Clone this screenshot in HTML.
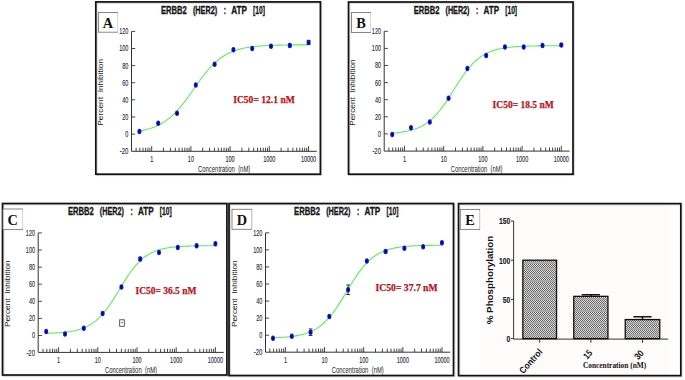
<!DOCTYPE html>
<html><head><meta charset="utf-8"><style>
html,body{margin:0;padding:0;background:#fff;}
body{width:685px;height:380px;overflow:hidden;font-family:"Liberation Sans", sans-serif;}
svg{display:block;}
</style></head><body>
<svg width="685" height="380" viewBox="0 0 685 380">
<rect width="685" height="380" fill="#fff"/>
<rect x="96.8" y="2.9" width="224.6" height="172.3" fill="none" stroke="#bbb" stroke-width="1.7" opacity="0.6"/>
<rect x="95.8" y="1.9" width="224.6" height="172.3" fill="none" stroke="#111" stroke-width="1.7"/>
<rect x="98.5" y="12.5" width="19" height="19.7" fill="#fff" stroke="#7a7a7a" stroke-width="0.9"/>
<path d="M117.5 13V31.7" stroke="#d8d8d8" stroke-width="1"/>
<text x="108" y="27.7" font-family="&quot;Liberation Serif&quot;, serif" font-weight="bold" font-size="14.3" text-anchor="middle" fill="#111">A</text>
<path d="M131.5 31.38V151.3H316.8" fill="none" stroke="#333" stroke-width="1"/>
<text x="128.3" y="154.17" font-family="&quot;Liberation Sans&quot;, sans-serif" font-weight="normal" font-size="8.2" text-anchor="end" fill="#2a2240" textLength="8.6" lengthAdjust="spacingAndGlyphs" stroke="#2a2240" stroke-width="0.12">-20</text>
<text x="128.3" y="137.05" font-family="&quot;Liberation Sans&quot;, sans-serif" font-weight="normal" font-size="8.2" text-anchor="end" fill="#2a2240" textLength="3.05" lengthAdjust="spacingAndGlyphs" stroke="#2a2240" stroke-width="0.12">0</text>
<text x="128.3" y="119.93" font-family="&quot;Liberation Sans&quot;, sans-serif" font-weight="normal" font-size="8.2" text-anchor="end" fill="#2a2240" textLength="6.1" lengthAdjust="spacingAndGlyphs" stroke="#2a2240" stroke-width="0.12">20</text>
<text x="128.3" y="102.81" font-family="&quot;Liberation Sans&quot;, sans-serif" font-weight="normal" font-size="8.2" text-anchor="end" fill="#2a2240" textLength="6.1" lengthAdjust="spacingAndGlyphs" stroke="#2a2240" stroke-width="0.12">40</text>
<text x="128.3" y="85.69" font-family="&quot;Liberation Sans&quot;, sans-serif" font-weight="normal" font-size="8.2" text-anchor="end" fill="#2a2240" textLength="6.1" lengthAdjust="spacingAndGlyphs" stroke="#2a2240" stroke-width="0.12">60</text>
<text x="128.3" y="68.57" font-family="&quot;Liberation Sans&quot;, sans-serif" font-weight="normal" font-size="8.2" text-anchor="end" fill="#2a2240" textLength="6.1" lengthAdjust="spacingAndGlyphs" stroke="#2a2240" stroke-width="0.12">80</text>
<text x="128.3" y="51.45" font-family="&quot;Liberation Sans&quot;, sans-serif" font-weight="normal" font-size="8.2" text-anchor="end" fill="#2a2240" textLength="9.15" lengthAdjust="spacingAndGlyphs" stroke="#2a2240" stroke-width="0.12">100</text>
<text x="128.3" y="34.33" font-family="&quot;Liberation Sans&quot;, sans-serif" font-weight="normal" font-size="8.2" text-anchor="end" fill="#2a2240" textLength="9.15" lengthAdjust="spacingAndGlyphs" stroke="#2a2240" stroke-width="0.12">120</text>
<path d="M131.5 134.1h3.7 M131.5 116.98h3.7 M131.5 99.86h3.7 M131.5 82.74h3.7 M131.5 65.62h3.7 M131.5 48.5h3.7 M131.5 31.38h3.7 M136.1 151.3v-3.6 M139.9 151.3v-3.6 M143 151.3v-3.6 M145.63 151.3v-3.6 M147.9 151.3v-3.6 M149.91 151.3v-3.6 M151.7 151.3v-5.2 M163.5 151.3v-3.6 M170.4 151.3v-3.6 M175.3 151.3v-3.6 M179.1 151.3v-3.6 M182.2 151.3v-3.6 M184.83 151.3v-3.6 M187.1 151.3v-3.6 M189.11 151.3v-3.6 M190.9 151.3v-5.2 M202.7 151.3v-3.6 M209.6 151.3v-3.6 M214.5 151.3v-3.6 M218.3 151.3v-3.6 M221.4 151.3v-3.6 M224.03 151.3v-3.6 M226.3 151.3v-3.6 M228.31 151.3v-3.6 M230.1 151.3v-5.2 M241.9 151.3v-3.6 M248.8 151.3v-3.6 M253.7 151.3v-3.6 M257.5 151.3v-3.6 M260.6 151.3v-3.6 M263.23 151.3v-3.6 M265.5 151.3v-3.6 M267.51 151.3v-3.6 M269.3 151.3v-5.2 M281.1 151.3v-3.6 M288 151.3v-3.6 M292.9 151.3v-3.6 M296.7 151.3v-3.6 M299.8 151.3v-3.6 M302.43 151.3v-3.6 M304.7 151.3v-3.6 M306.71 151.3v-3.6 M308.5 151.3v-5.2" fill="none" stroke="#333" stroke-width="0.9"/>
<text x="151.7" y="161.7" font-family="&quot;Liberation Sans&quot;, sans-serif" font-weight="normal" font-size="8.2" text-anchor="middle" fill="#2a2240" textLength="3.05" lengthAdjust="spacingAndGlyphs" stroke="#2a2240" stroke-width="0.12">1</text>
<text x="190.9" y="161.7" font-family="&quot;Liberation Sans&quot;, sans-serif" font-weight="normal" font-size="8.2" text-anchor="middle" fill="#2a2240" textLength="6.1" lengthAdjust="spacingAndGlyphs" stroke="#2a2240" stroke-width="0.12">10</text>
<text x="230.1" y="161.7" font-family="&quot;Liberation Sans&quot;, sans-serif" font-weight="normal" font-size="8.2" text-anchor="middle" fill="#2a2240" textLength="9.15" lengthAdjust="spacingAndGlyphs" stroke="#2a2240" stroke-width="0.12">100</text>
<text x="269.3" y="161.7" font-family="&quot;Liberation Sans&quot;, sans-serif" font-weight="normal" font-size="8.2" text-anchor="middle" fill="#2a2240" textLength="12.2" lengthAdjust="spacingAndGlyphs" stroke="#2a2240" stroke-width="0.12">1000</text>
<text x="308.5" y="161.7" font-family="&quot;Liberation Sans&quot;, sans-serif" font-weight="normal" font-size="8.2" text-anchor="middle" fill="#2a2240" textLength="15.25" lengthAdjust="spacingAndGlyphs" stroke="#2a2240" stroke-width="0.12">10000</text>
<text x="198" y="171.8" font-family="&quot;Liberation Sans&quot;, sans-serif" font-weight="normal" font-size="8.6" text-anchor="start" fill="#222" textLength="52.3" lengthAdjust="spacingAndGlyphs">Concentration&#160;&#160;(nM)</text>
<g transform="translate(103.1 125.8) rotate(-90)">
<text x="0" y="0" font-family="&quot;Liberation Sans&quot;, sans-serif" font-weight="normal" font-size="7.5" text-anchor="start" fill="#222" textLength="66.9" lengthAdjust="spacingAndGlyphs">Percent&#160;&#160;Inhibition</text>
</g>
<text x="160.9" y="13.6" font-family="&quot;Liberation Sans&quot;, sans-serif" font-weight="bold" font-size="10.2" text-anchor="start" fill="#151515" textLength="25.9" lengthAdjust="spacingAndGlyphs" stroke="#151515" stroke-width="0.3">ERBB2</text>
<text x="192.9" y="13.6" font-family="&quot;Liberation Sans&quot;, sans-serif" font-weight="bold" font-size="10.2" text-anchor="start" fill="#151515" textLength="24.2" lengthAdjust="spacingAndGlyphs" stroke="#151515" stroke-width="0.3">(HER2)</text>
<text x="223.7" y="13.6" font-family="&quot;Liberation Sans&quot;, sans-serif" font-weight="bold" font-size="10.2" text-anchor="start" fill="#151515" textLength="2.2" lengthAdjust="spacingAndGlyphs" stroke="#151515" stroke-width="0.3">:</text>
<text x="231.2" y="13.6" font-family="&quot;Liberation Sans&quot;, sans-serif" font-weight="bold" font-size="10.2" text-anchor="start" fill="#151515" textLength="15.7" lengthAdjust="spacingAndGlyphs" stroke="#151515" stroke-width="0.3">ATP</text>
<text x="253.1" y="13.6" font-family="&quot;Liberation Sans&quot;, sans-serif" font-weight="bold" font-size="10.2" text-anchor="start" fill="#151515" textLength="12" lengthAdjust="spacingAndGlyphs" stroke="#151515" stroke-width="0.3">[10]</text>
<polyline points="139.41,130.91 140.83,130.67 142.26,130.4 143.68,130.11 145.1,129.79 146.52,129.45 147.94,129.07 149.36,128.67 150.79,128.23 152.21,127.75 153.63,127.23 155.05,126.67 156.47,126.07 157.9,125.42 159.32,124.72 160.74,123.97 162.16,123.16 163.58,122.29 165,121.36 166.43,120.37 167.85,119.31 169.27,118.19 170.69,117 172.11,115.73 173.53,114.4 174.96,112.99 176.38,111.52 177.8,109.97 179.22,108.36 180.64,106.68 182.07,104.95 183.49,103.15 184.91,101.3 186.33,99.41 187.75,97.48 189.17,95.51 190.6,93.52 192.02,91.51 193.44,89.49 194.86,87.46 196.28,85.45 197.7,83.45 199.13,81.47 200.55,79.53 201.97,77.62 203.39,75.76 204.81,73.95 206.23,72.19 207.66,70.5 209.08,68.86 210.5,67.3 211.92,65.8 213.34,64.37 214.77,63.02 216.19,61.73 217.61,60.52 219.03,59.37 220.45,58.29 221.87,57.28 223.3,56.33 224.72,55.45 226.14,54.62 227.56,53.85 228.98,53.13 230.4,52.47 231.83,51.85 233.25,51.28 234.67,50.75 236.09,50.26 237.51,49.81 238.93,49.39 240.36,49.01 241.78,48.65 243.2,48.33 244.62,48.03 246.04,47.75 247.47,47.5 248.89,47.27 250.31,47.06 251.73,46.86 253.15,46.68 254.57,46.52 256,46.37 257.42,46.23 258.84,46.1 260.26,45.99 261.68,45.88 263.1,45.79 264.53,45.7 265.95,45.62 267.37,45.54 268.79,45.47 270.21,45.41 271.63,45.36 273.06,45.3 274.48,45.26 275.9,45.21 277.32,45.17 278.74,45.14 280.17,45.11 281.59,45.08 283.01,45.05 284.43,45.02 285.85,45 287.27,44.98 288.7,44.96 290.12,44.94 291.54,44.93 292.96,44.91 294.38,44.9 295.8,44.89 297.23,44.88 298.65,44.87 300.07,44.86 301.49,44.85 302.91,44.84 304.33,44.83 305.76,44.83 307.18,44.82 308.6,44.82" fill="none" stroke="#5af05a" stroke-width="1.1"/>
<path d="M289.8 44.05V46.79M287.9 44.05h3.8M287.9 46.79h3.8" stroke="#222" stroke-width="0.9" fill="none"/>
<path d="M308.6 40.37V44.48M306.7 40.37h3.8M306.7 44.48h3.8" stroke="#222" stroke-width="0.9" fill="none"/>
<ellipse cx="139.41" cy="131.4" rx="2" ry="2.75" fill="#1414f0"/>
<ellipse cx="139.41" cy="131.4" rx="0.75" ry="1.7" fill="#000050"/>
<ellipse cx="158.21" cy="123.23" rx="2" ry="2.75" fill="#1414f0"/>
<ellipse cx="158.21" cy="123.23" rx="0.75" ry="1.7" fill="#000050"/>
<ellipse cx="177.01" cy="113.21" rx="2" ry="2.75" fill="#1414f0"/>
<ellipse cx="177.01" cy="113.21" rx="0.75" ry="1.7" fill="#000050"/>
<ellipse cx="195.81" cy="84.88" rx="2" ry="2.75" fill="#1414f0"/>
<ellipse cx="195.81" cy="84.88" rx="0.75" ry="1.7" fill="#000050"/>
<ellipse cx="214.61" cy="64.34" rx="2" ry="2.75" fill="#1414f0"/>
<ellipse cx="214.61" cy="64.34" rx="0.75" ry="1.7" fill="#000050"/>
<ellipse cx="233.41" cy="49.78" rx="2" ry="2.75" fill="#1414f0"/>
<ellipse cx="233.41" cy="49.78" rx="0.75" ry="1.7" fill="#000050"/>
<ellipse cx="252.2" cy="48.5" rx="2" ry="2.75" fill="#1414f0"/>
<ellipse cx="252.2" cy="48.5" rx="0.75" ry="1.7" fill="#000050"/>
<ellipse cx="271" cy="46.27" rx="2" ry="2.75" fill="#1414f0"/>
<ellipse cx="271" cy="46.27" rx="0.75" ry="1.7" fill="#000050"/>
<ellipse cx="289.8" cy="45.42" rx="2" ry="2.75" fill="#1414f0"/>
<ellipse cx="289.8" cy="45.42" rx="0.75" ry="1.7" fill="#000050"/>
<ellipse cx="308.6" cy="42.42" rx="2" ry="2.75" fill="#1414f0"/>
<ellipse cx="308.6" cy="42.42" rx="0.75" ry="1.7" fill="#000050"/>
<text x="233.2" y="103.1" font-family="&quot;Liberation Serif&quot;, serif" font-weight="bold" font-size="10.2" text-anchor="start" fill="#bb1219" textLength="61.6" lengthAdjust="spacingAndGlyphs" stroke="#bb1219" stroke-width="0.25">IC50= 12.1 nM</text>
<rect x="349.5" y="3" width="224.5" height="172.2" fill="none" stroke="#bbb" stroke-width="1.7" opacity="0.6"/>
<rect x="348.5" y="2" width="224.5" height="172.2" fill="none" stroke="#111" stroke-width="1.7"/>
<rect x="351.5" y="12.5" width="19" height="20" fill="#fff" stroke="#7a7a7a" stroke-width="0.9"/>
<path d="M370.5 13V32" stroke="#d8d8d8" stroke-width="1"/>
<text x="361" y="28" font-family="&quot;Liberation Serif&quot;, serif" font-weight="bold" font-size="14.3" text-anchor="middle" fill="#111">B</text>
<path d="M384.2 31.3V151.1H569.6" fill="none" stroke="#333" stroke-width="1"/>
<text x="381" y="153.95" font-family="&quot;Liberation Sans&quot;, sans-serif" font-weight="normal" font-size="8.2" text-anchor="end" fill="#2a2240" textLength="8.6" lengthAdjust="spacingAndGlyphs" stroke="#2a2240" stroke-width="0.12">-20</text>
<text x="381" y="136.85" font-family="&quot;Liberation Sans&quot;, sans-serif" font-weight="normal" font-size="8.2" text-anchor="end" fill="#2a2240" textLength="3.05" lengthAdjust="spacingAndGlyphs" stroke="#2a2240" stroke-width="0.12">0</text>
<text x="381" y="119.75" font-family="&quot;Liberation Sans&quot;, sans-serif" font-weight="normal" font-size="8.2" text-anchor="end" fill="#2a2240" textLength="6.1" lengthAdjust="spacingAndGlyphs" stroke="#2a2240" stroke-width="0.12">20</text>
<text x="381" y="102.65" font-family="&quot;Liberation Sans&quot;, sans-serif" font-weight="normal" font-size="8.2" text-anchor="end" fill="#2a2240" textLength="6.1" lengthAdjust="spacingAndGlyphs" stroke="#2a2240" stroke-width="0.12">40</text>
<text x="381" y="85.55" font-family="&quot;Liberation Sans&quot;, sans-serif" font-weight="normal" font-size="8.2" text-anchor="end" fill="#2a2240" textLength="6.1" lengthAdjust="spacingAndGlyphs" stroke="#2a2240" stroke-width="0.12">60</text>
<text x="381" y="68.45" font-family="&quot;Liberation Sans&quot;, sans-serif" font-weight="normal" font-size="8.2" text-anchor="end" fill="#2a2240" textLength="6.1" lengthAdjust="spacingAndGlyphs" stroke="#2a2240" stroke-width="0.12">80</text>
<text x="381" y="51.35" font-family="&quot;Liberation Sans&quot;, sans-serif" font-weight="normal" font-size="8.2" text-anchor="end" fill="#2a2240" textLength="9.15" lengthAdjust="spacingAndGlyphs" stroke="#2a2240" stroke-width="0.12">100</text>
<text x="381" y="34.25" font-family="&quot;Liberation Sans&quot;, sans-serif" font-weight="normal" font-size="8.2" text-anchor="end" fill="#2a2240" textLength="9.15" lengthAdjust="spacingAndGlyphs" stroke="#2a2240" stroke-width="0.12">120</text>
<path d="M384.2 133.9h3.7 M384.2 116.8h3.7 M384.2 99.7h3.7 M384.2 82.6h3.7 M384.2 65.5h3.7 M384.2 48.4h3.7 M384.2 31.3h3.7 M388.9 151.1v-3.6 M392.7 151.1v-3.6 M395.8 151.1v-3.6 M398.43 151.1v-3.6 M400.7 151.1v-3.6 M402.71 151.1v-3.6 M404.5 151.1v-5.2 M416.3 151.1v-3.6 M423.2 151.1v-3.6 M428.1 151.1v-3.6 M431.9 151.1v-3.6 M435 151.1v-3.6 M437.63 151.1v-3.6 M439.9 151.1v-3.6 M441.91 151.1v-3.6 M443.7 151.1v-5.2 M455.5 151.1v-3.6 M462.4 151.1v-3.6 M467.3 151.1v-3.6 M471.1 151.1v-3.6 M474.2 151.1v-3.6 M476.83 151.1v-3.6 M479.1 151.1v-3.6 M481.11 151.1v-3.6 M482.9 151.1v-5.2 M494.7 151.1v-3.6 M501.6 151.1v-3.6 M506.5 151.1v-3.6 M510.3 151.1v-3.6 M513.4 151.1v-3.6 M516.03 151.1v-3.6 M518.3 151.1v-3.6 M520.31 151.1v-3.6 M522.1 151.1v-5.2 M533.9 151.1v-3.6 M540.8 151.1v-3.6 M545.7 151.1v-3.6 M549.5 151.1v-3.6 M552.6 151.1v-3.6 M555.23 151.1v-3.6 M557.5 151.1v-3.6 M559.51 151.1v-3.6 M561.3 151.1v-5.2" fill="none" stroke="#333" stroke-width="0.9"/>
<text x="404.5" y="161.5" font-family="&quot;Liberation Sans&quot;, sans-serif" font-weight="normal" font-size="8.2" text-anchor="middle" fill="#2a2240" textLength="3.05" lengthAdjust="spacingAndGlyphs" stroke="#2a2240" stroke-width="0.12">1</text>
<text x="443.7" y="161.5" font-family="&quot;Liberation Sans&quot;, sans-serif" font-weight="normal" font-size="8.2" text-anchor="middle" fill="#2a2240" textLength="6.1" lengthAdjust="spacingAndGlyphs" stroke="#2a2240" stroke-width="0.12">10</text>
<text x="482.9" y="161.5" font-family="&quot;Liberation Sans&quot;, sans-serif" font-weight="normal" font-size="8.2" text-anchor="middle" fill="#2a2240" textLength="9.15" lengthAdjust="spacingAndGlyphs" stroke="#2a2240" stroke-width="0.12">100</text>
<text x="522.1" y="161.5" font-family="&quot;Liberation Sans&quot;, sans-serif" font-weight="normal" font-size="8.2" text-anchor="middle" fill="#2a2240" textLength="12.2" lengthAdjust="spacingAndGlyphs" stroke="#2a2240" stroke-width="0.12">1000</text>
<text x="561.3" y="161.5" font-family="&quot;Liberation Sans&quot;, sans-serif" font-weight="normal" font-size="8.2" text-anchor="middle" fill="#2a2240" textLength="15.25" lengthAdjust="spacingAndGlyphs" stroke="#2a2240" stroke-width="0.12">10000</text>
<text x="450.7" y="171.8" font-family="&quot;Liberation Sans&quot;, sans-serif" font-weight="normal" font-size="8.6" text-anchor="start" fill="#222" textLength="51.8" lengthAdjust="spacingAndGlyphs">Concentration&#160;&#160;(nM)</text>
<g transform="translate(355.1 125.8) rotate(-90)">
<text x="0" y="0" font-family="&quot;Liberation Sans&quot;, sans-serif" font-weight="normal" font-size="7.5" text-anchor="start" fill="#222" textLength="66.5" lengthAdjust="spacingAndGlyphs">Percent&#160;&#160;Inhibition</text>
</g>
<text x="413.8" y="13.6" font-family="&quot;Liberation Sans&quot;, sans-serif" font-weight="bold" font-size="10.2" text-anchor="start" fill="#151515" textLength="25.68" lengthAdjust="spacingAndGlyphs" stroke="#151515" stroke-width="0.3">ERBB2</text>
<text x="445.52" y="13.6" font-family="&quot;Liberation Sans&quot;, sans-serif" font-weight="bold" font-size="10.2" text-anchor="start" fill="#151515" textLength="23.99" lengthAdjust="spacingAndGlyphs" stroke="#151515" stroke-width="0.3">(HER2)</text>
<text x="476.06" y="13.6" font-family="&quot;Liberation Sans&quot;, sans-serif" font-weight="bold" font-size="10.2" text-anchor="start" fill="#151515" textLength="2.18" lengthAdjust="spacingAndGlyphs" stroke="#151515" stroke-width="0.3">:</text>
<text x="483.49" y="13.6" font-family="&quot;Liberation Sans&quot;, sans-serif" font-weight="bold" font-size="10.2" text-anchor="start" fill="#151515" textLength="15.56" lengthAdjust="spacingAndGlyphs" stroke="#151515" stroke-width="0.3">ATP</text>
<text x="505.2" y="13.6" font-family="&quot;Liberation Sans&quot;, sans-serif" font-weight="bold" font-size="10.2" text-anchor="start" fill="#151515" textLength="11.9" lengthAdjust="spacingAndGlyphs" stroke="#151515" stroke-width="0.3">[10]</text>
<polyline points="392.22,133.19 393.64,133.08 395.06,132.95 396.48,132.82 397.9,132.67 399.32,132.5 400.74,132.32 402.17,132.12 403.59,131.89 405.01,131.65 406.43,131.38 407.85,131.08 409.27,130.75 410.69,130.39 412.11,130 413.53,129.57 414.95,129.09 416.38,128.58 417.8,128.01 419.22,127.39 420.64,126.72 422.06,125.98 423.48,125.19 424.9,124.32 426.32,123.39 427.74,122.37 429.17,121.28 430.59,120.11 432.01,118.86 433.43,117.52 434.85,116.09 436.27,114.57 437.69,112.96 439.11,111.26 440.53,109.48 441.95,107.62 443.38,105.68 444.8,103.67 446.22,101.6 447.64,99.46 449.06,97.28 450.48,95.07 451.9,92.83 453.32,90.57 454.74,88.31 456.16,86.06 457.59,83.82 459.01,81.62 460.43,79.46 461.85,77.36 463.27,75.31 464.69,73.33 466.11,71.43 467.53,69.6 468.95,67.86 470.37,66.21 471.8,64.64 473.22,63.17 474.64,61.78 476.06,60.48 477.48,59.26 478.9,58.13 480.32,57.07 481.74,56.1 483.16,55.2 484.58,54.36 486.01,53.6 487.43,52.89 488.85,52.24 490.27,51.65 491.69,51.11 493.11,50.61 494.53,50.16 495.95,49.74 497.37,49.36 498.8,49.02 500.22,48.71 501.64,48.42 503.06,48.17 504.48,47.93 505.9,47.72 507.32,47.52 508.74,47.35 510.16,47.19 511.58,47.05 513.01,46.92 514.43,46.8 515.85,46.69 517.27,46.6 518.69,46.51 520.11,46.43 521.53,46.36 522.95,46.29 524.37,46.23 525.79,46.18 527.22,46.13 528.64,46.09 530.06,46.05 531.48,46.02 532.9,45.98 534.32,45.96 535.74,45.93 537.16,45.91 538.58,45.89 540,45.87 541.43,45.85 542.85,45.83 544.27,45.82 545.69,45.81 547.11,45.79 548.53,45.78 549.95,45.77 551.37,45.77 552.79,45.76 554.21,45.75 555.64,45.75 557.06,45.74 558.48,45.73 559.9,45.73 561.32,45.73" fill="none" stroke="#5af05a" stroke-width="1.1"/>
<path d="M561.32 44.04V46.09M559.42 44.04h3.8M559.42 46.09h3.8" stroke="#222" stroke-width="0.9" fill="none"/>
<ellipse cx="392.22" cy="134.58" rx="2" ry="2.75" fill="#1414f0"/>
<ellipse cx="392.22" cy="134.58" rx="0.75" ry="1.7" fill="#000050"/>
<ellipse cx="411.01" cy="127.83" rx="2" ry="2.75" fill="#1414f0"/>
<ellipse cx="411.01" cy="127.83" rx="0.75" ry="1.7" fill="#000050"/>
<ellipse cx="429.8" cy="122.1" rx="2" ry="2.75" fill="#1414f0"/>
<ellipse cx="429.8" cy="122.1" rx="0.75" ry="1.7" fill="#000050"/>
<ellipse cx="448.59" cy="98.16" rx="2" ry="2.75" fill="#1414f0"/>
<ellipse cx="448.59" cy="98.16" rx="0.75" ry="1.7" fill="#000050"/>
<ellipse cx="467.37" cy="68.41" rx="2" ry="2.75" fill="#1414f0"/>
<ellipse cx="467.37" cy="68.41" rx="0.75" ry="1.7" fill="#000050"/>
<ellipse cx="486.16" cy="55.5" rx="2" ry="2.75" fill="#1414f0"/>
<ellipse cx="486.16" cy="55.5" rx="0.75" ry="1.7" fill="#000050"/>
<ellipse cx="504.95" cy="47.12" rx="2" ry="2.75" fill="#1414f0"/>
<ellipse cx="504.95" cy="47.12" rx="0.75" ry="1.7" fill="#000050"/>
<ellipse cx="523.74" cy="47.12" rx="2" ry="2.75" fill="#1414f0"/>
<ellipse cx="523.74" cy="47.12" rx="0.75" ry="1.7" fill="#000050"/>
<ellipse cx="542.53" cy="45.41" rx="2" ry="2.75" fill="#1414f0"/>
<ellipse cx="542.53" cy="45.41" rx="0.75" ry="1.7" fill="#000050"/>
<ellipse cx="561.32" cy="45.07" rx="2" ry="2.75" fill="#1414f0"/>
<ellipse cx="561.32" cy="45.07" rx="0.75" ry="1.7" fill="#000050"/>
<text x="492.6" y="107.75" font-family="&quot;Liberation Serif&quot;, serif" font-weight="bold" font-size="10.2" text-anchor="start" fill="#bb1219" textLength="61.2" lengthAdjust="spacingAndGlyphs" stroke="#bb1219" stroke-width="0.25">IC50= 18.5 nM</text>
<rect x="3.5" y="204.5" width="224.4" height="171.5" fill="none" stroke="#bbb" stroke-width="1.7" opacity="0.6"/>
<rect x="2.5" y="203.5" width="224.4" height="171.5" fill="none" stroke="#111" stroke-width="1.7"/>
<rect x="3" y="209" width="19.5" height="20.6" fill="#fff" stroke="#7a7a7a" stroke-width="0.9"/>
<path d="M22.5 209.5V229.1" stroke="#d8d8d8" stroke-width="1"/>
<text x="12.75" y="225.1" font-family="&quot;Liberation Serif&quot;, serif" font-weight="bold" font-size="14.3" text-anchor="middle" fill="#111">C</text>
<path d="M38.2 232.9V352.4H223.7" fill="none" stroke="#333" stroke-width="1"/>
<text x="35" y="355.55" font-family="&quot;Liberation Sans&quot;, sans-serif" font-weight="normal" font-size="8.2" text-anchor="end" fill="#2a2240" textLength="8.6" lengthAdjust="spacingAndGlyphs" stroke="#2a2240" stroke-width="0.12">-20</text>
<text x="35" y="338.45" font-family="&quot;Liberation Sans&quot;, sans-serif" font-weight="normal" font-size="8.2" text-anchor="end" fill="#2a2240" textLength="3.05" lengthAdjust="spacingAndGlyphs" stroke="#2a2240" stroke-width="0.12">0</text>
<text x="35" y="321.35" font-family="&quot;Liberation Sans&quot;, sans-serif" font-weight="normal" font-size="8.2" text-anchor="end" fill="#2a2240" textLength="6.1" lengthAdjust="spacingAndGlyphs" stroke="#2a2240" stroke-width="0.12">20</text>
<text x="35" y="304.25" font-family="&quot;Liberation Sans&quot;, sans-serif" font-weight="normal" font-size="8.2" text-anchor="end" fill="#2a2240" textLength="6.1" lengthAdjust="spacingAndGlyphs" stroke="#2a2240" stroke-width="0.12">40</text>
<text x="35" y="287.15" font-family="&quot;Liberation Sans&quot;, sans-serif" font-weight="normal" font-size="8.2" text-anchor="end" fill="#2a2240" textLength="6.1" lengthAdjust="spacingAndGlyphs" stroke="#2a2240" stroke-width="0.12">60</text>
<text x="35" y="270.05" font-family="&quot;Liberation Sans&quot;, sans-serif" font-weight="normal" font-size="8.2" text-anchor="end" fill="#2a2240" textLength="6.1" lengthAdjust="spacingAndGlyphs" stroke="#2a2240" stroke-width="0.12">80</text>
<text x="35" y="252.95" font-family="&quot;Liberation Sans&quot;, sans-serif" font-weight="normal" font-size="8.2" text-anchor="end" fill="#2a2240" textLength="9.15" lengthAdjust="spacingAndGlyphs" stroke="#2a2240" stroke-width="0.12">100</text>
<text x="35" y="235.85" font-family="&quot;Liberation Sans&quot;, sans-serif" font-weight="normal" font-size="8.2" text-anchor="end" fill="#2a2240" textLength="9.15" lengthAdjust="spacingAndGlyphs" stroke="#2a2240" stroke-width="0.12">120</text>
<path d="M38.2 335.5h3.7 M38.2 318.4h3.7 M38.2 301.3h3.7 M38.2 284.2h3.7 M38.2 267.1h3.7 M38.2 250h3.7 M38.2 232.9h3.7 M43 352.4v-3.6 M46.8 352.4v-3.6 M49.9 352.4v-3.6 M52.53 352.4v-3.6 M54.8 352.4v-3.6 M56.81 352.4v-3.6 M58.6 352.4v-5.2 M70.4 352.4v-3.6 M77.3 352.4v-3.6 M82.2 352.4v-3.6 M86 352.4v-3.6 M89.1 352.4v-3.6 M91.73 352.4v-3.6 M94 352.4v-3.6 M96.01 352.4v-3.6 M97.8 352.4v-5.2 M109.6 352.4v-3.6 M116.5 352.4v-3.6 M121.4 352.4v-3.6 M125.2 352.4v-3.6 M128.3 352.4v-3.6 M130.93 352.4v-3.6 M133.2 352.4v-3.6 M135.21 352.4v-3.6 M137 352.4v-5.2 M148.8 352.4v-3.6 M155.7 352.4v-3.6 M160.6 352.4v-3.6 M164.4 352.4v-3.6 M167.5 352.4v-3.6 M170.13 352.4v-3.6 M172.4 352.4v-3.6 M174.41 352.4v-3.6 M176.2 352.4v-5.2 M188 352.4v-3.6 M194.9 352.4v-3.6 M199.8 352.4v-3.6 M203.6 352.4v-3.6 M206.7 352.4v-3.6 M209.33 352.4v-3.6 M211.6 352.4v-3.6 M213.61 352.4v-3.6 M215.4 352.4v-5.2" fill="none" stroke="#333" stroke-width="0.9"/>
<text x="58.6" y="362.8" font-family="&quot;Liberation Sans&quot;, sans-serif" font-weight="normal" font-size="8.2" text-anchor="middle" fill="#2a2240" textLength="3.05" lengthAdjust="spacingAndGlyphs" stroke="#2a2240" stroke-width="0.12">1</text>
<text x="97.8" y="362.8" font-family="&quot;Liberation Sans&quot;, sans-serif" font-weight="normal" font-size="8.2" text-anchor="middle" fill="#2a2240" textLength="6.1" lengthAdjust="spacingAndGlyphs" stroke="#2a2240" stroke-width="0.12">10</text>
<text x="137" y="362.8" font-family="&quot;Liberation Sans&quot;, sans-serif" font-weight="normal" font-size="8.2" text-anchor="middle" fill="#2a2240" textLength="9.15" lengthAdjust="spacingAndGlyphs" stroke="#2a2240" stroke-width="0.12">100</text>
<text x="176.2" y="362.8" font-family="&quot;Liberation Sans&quot;, sans-serif" font-weight="normal" font-size="8.2" text-anchor="middle" fill="#2a2240" textLength="12.2" lengthAdjust="spacingAndGlyphs" stroke="#2a2240" stroke-width="0.12">1000</text>
<text x="215.4" y="362.8" font-family="&quot;Liberation Sans&quot;, sans-serif" font-weight="normal" font-size="8.2" text-anchor="middle" fill="#2a2240" textLength="15.25" lengthAdjust="spacingAndGlyphs" stroke="#2a2240" stroke-width="0.12">10000</text>
<text x="104.9" y="373" font-family="&quot;Liberation Sans&quot;, sans-serif" font-weight="normal" font-size="8.6" text-anchor="start" fill="#222" textLength="52.2" lengthAdjust="spacingAndGlyphs">Concentration&#160;&#160;(nM)</text>
<g transform="translate(10 327.1) rotate(-90)">
<text x="0" y="0" font-family="&quot;Liberation Sans&quot;, sans-serif" font-weight="normal" font-size="7.5" text-anchor="start" fill="#222" textLength="66.8" lengthAdjust="spacingAndGlyphs">Percent&#160;&#160;Inhibition</text>
</g>
<text x="67.9" y="215.4" font-family="&quot;Liberation Sans&quot;, sans-serif" font-weight="bold" font-size="10.2" text-anchor="start" fill="#151515" textLength="25.8" lengthAdjust="spacingAndGlyphs" stroke="#151515" stroke-width="0.3">ERBB2</text>
<text x="99.78" y="215.4" font-family="&quot;Liberation Sans&quot;, sans-serif" font-weight="bold" font-size="10.2" text-anchor="start" fill="#151515" textLength="24.11" lengthAdjust="spacingAndGlyphs" stroke="#151515" stroke-width="0.3">(HER2)</text>
<text x="130.46" y="215.4" font-family="&quot;Liberation Sans&quot;, sans-serif" font-weight="bold" font-size="10.2" text-anchor="start" fill="#151515" textLength="2.19" lengthAdjust="spacingAndGlyphs" stroke="#151515" stroke-width="0.3">:</text>
<text x="137.93" y="215.4" font-family="&quot;Liberation Sans&quot;, sans-serif" font-weight="bold" font-size="10.2" text-anchor="start" fill="#151515" textLength="15.64" lengthAdjust="spacingAndGlyphs" stroke="#151515" stroke-width="0.3">ATP</text>
<text x="159.75" y="215.4" font-family="&quot;Liberation Sans&quot;, sans-serif" font-weight="bold" font-size="10.2" text-anchor="start" fill="#151515" textLength="11.95" lengthAdjust="spacingAndGlyphs" stroke="#151515" stroke-width="0.3">[10]</text>
<polyline points="46.21,333.27 47.63,333.23 49.06,333.18 50.48,333.13 51.9,333.08 53.32,333.02 54.74,332.95 56.16,332.87 57.59,332.79 59.01,332.7 60.43,332.59 61.85,332.48 63.27,332.35 64.7,332.21 66.12,332.05 67.54,331.88 68.96,331.68 70.38,331.47 71.8,331.23 73.23,330.97 74.65,330.68 76.07,330.36 77.49,330.01 78.91,329.62 80.33,329.19 81.76,328.71 83.18,328.19 84.6,327.62 86.02,326.99 87.44,326.31 88.87,325.56 90.29,324.74 91.71,323.85 93.13,322.88 94.55,321.83 95.97,320.69 97.4,319.47 98.82,318.15 100.24,316.74 101.66,315.23 103.08,313.63 104.5,311.92 105.93,310.13 107.35,308.24 108.77,306.27 110.19,304.21 111.61,302.08 113.03,299.88 114.46,297.63 115.88,295.34 117.3,293.01 118.72,290.66 120.14,288.31 121.57,285.96 122.99,283.64 124.41,281.34 125.83,279.1 127.25,276.91 128.67,274.79 130.1,272.74 131.52,270.77 132.94,268.9 134.36,267.11 135.78,265.42 137.2,263.83 138.63,262.33 140.05,260.93 141.47,259.62 142.89,258.4 144.31,257.28 145.73,256.24 147.16,255.28 148.58,254.39 150,253.58 151.42,252.84 152.84,252.16 154.27,251.54 155.69,250.97 157.11,250.46 158.53,249.99 159.95,249.57 161.37,249.18 162.8,248.83 164.22,248.51 165.64,248.23 167.06,247.97 168.48,247.73 169.9,247.52 171.33,247.33 172.75,247.16 174.17,247 175.59,246.86 177.01,246.74 178.43,246.62 179.86,246.52 181.28,246.43 182.7,246.34 184.12,246.27 185.54,246.2 186.97,246.14 188.39,246.09 189.81,246.04 191.23,245.99 192.65,245.95 194.07,245.92 195.5,245.89 196.92,245.86 198.34,245.83 199.76,245.81 201.18,245.79 202.6,245.77 204.03,245.75 205.45,245.74 206.87,245.72 208.29,245.71 209.71,245.7 211.13,245.69 212.56,245.68 213.98,245.67 215.4,245.66" fill="none" stroke="#5af05a" stroke-width="1.1"/>
<path d="M140.21 257.27V260.69M138.31 257.27h3.8M138.31 260.69h3.8" stroke="#222" stroke-width="0.9" fill="none"/>
<ellipse cx="46.21" cy="331.48" rx="2" ry="2.75" fill="#1414f0"/>
<ellipse cx="46.21" cy="331.48" rx="0.75" ry="1.7" fill="#000050"/>
<ellipse cx="65.01" cy="333.88" rx="2" ry="2.75" fill="#1414f0"/>
<ellipse cx="65.01" cy="333.88" rx="0.75" ry="1.7" fill="#000050"/>
<ellipse cx="83.81" cy="328.32" rx="2" ry="2.75" fill="#1414f0"/>
<ellipse cx="83.81" cy="328.32" rx="0.75" ry="1.7" fill="#000050"/>
<ellipse cx="102.61" cy="313.61" rx="2" ry="2.75" fill="#1414f0"/>
<ellipse cx="102.61" cy="313.61" rx="0.75" ry="1.7" fill="#000050"/>
<ellipse cx="121.41" cy="287.02" rx="2" ry="2.75" fill="#1414f0"/>
<ellipse cx="121.41" cy="287.02" rx="0.75" ry="1.7" fill="#000050"/>
<ellipse cx="140.21" cy="258.98" rx="2" ry="2.75" fill="#1414f0"/>
<ellipse cx="140.21" cy="258.98" rx="0.75" ry="1.7" fill="#000050"/>
<ellipse cx="159" cy="252.39" rx="2" ry="2.75" fill="#1414f0"/>
<ellipse cx="159" cy="252.39" rx="0.75" ry="1.7" fill="#000050"/>
<ellipse cx="177.8" cy="247.61" rx="2" ry="2.75" fill="#1414f0"/>
<ellipse cx="177.8" cy="247.61" rx="0.75" ry="1.7" fill="#000050"/>
<ellipse cx="196.6" cy="245.64" rx="2" ry="2.75" fill="#1414f0"/>
<ellipse cx="196.6" cy="245.64" rx="0.75" ry="1.7" fill="#000050"/>
<ellipse cx="215.4" cy="243.67" rx="2" ry="2.75" fill="#1414f0"/>
<ellipse cx="215.4" cy="243.67" rx="0.75" ry="1.7" fill="#000050"/>
<rect x="119.7" y="319.8" width="4.6" height="6.5" fill="#fff" stroke="#333" stroke-width="0.8"/>
<path d="M121.1 322.6h1.8" stroke="#333" stroke-width="0.8"/>
<text x="135.6" y="293.6" font-family="&quot;Liberation Serif&quot;, serif" font-weight="bold" font-size="10.2" text-anchor="start" fill="#bb1219" textLength="60.8" lengthAdjust="spacingAndGlyphs" stroke="#bb1219" stroke-width="0.25">IC50= 36.5 nM</text>
<rect x="230" y="204.5" width="224.5" height="172" fill="none" stroke="#bbb" stroke-width="1.7" opacity="0.6"/>
<rect x="229" y="203.5" width="224.5" height="172" fill="none" stroke="#111" stroke-width="1.7"/>
<rect x="232" y="209.3" width="19.7" height="20" fill="#fff" stroke="#7a7a7a" stroke-width="0.9"/>
<path d="M251.7 209.8V228.8" stroke="#d8d8d8" stroke-width="1"/>
<text x="241.85" y="224.8" font-family="&quot;Liberation Serif&quot;, serif" font-weight="bold" font-size="14.3" text-anchor="middle" fill="#111">D</text>
<path d="M265.5 232.84V352.2H450.3" fill="none" stroke="#333" stroke-width="1"/>
<text x="262.3" y="355.21" font-family="&quot;Liberation Sans&quot;, sans-serif" font-weight="normal" font-size="8.2" text-anchor="end" fill="#2a2240" textLength="8.6" lengthAdjust="spacingAndGlyphs" stroke="#2a2240" stroke-width="0.12">-20</text>
<text x="262.3" y="338.15" font-family="&quot;Liberation Sans&quot;, sans-serif" font-weight="normal" font-size="8.2" text-anchor="end" fill="#2a2240" textLength="3.05" lengthAdjust="spacingAndGlyphs" stroke="#2a2240" stroke-width="0.12">0</text>
<text x="262.3" y="321.09" font-family="&quot;Liberation Sans&quot;, sans-serif" font-weight="normal" font-size="8.2" text-anchor="end" fill="#2a2240" textLength="6.1" lengthAdjust="spacingAndGlyphs" stroke="#2a2240" stroke-width="0.12">20</text>
<text x="262.3" y="304.03" font-family="&quot;Liberation Sans&quot;, sans-serif" font-weight="normal" font-size="8.2" text-anchor="end" fill="#2a2240" textLength="6.1" lengthAdjust="spacingAndGlyphs" stroke="#2a2240" stroke-width="0.12">40</text>
<text x="262.3" y="286.97" font-family="&quot;Liberation Sans&quot;, sans-serif" font-weight="normal" font-size="8.2" text-anchor="end" fill="#2a2240" textLength="6.1" lengthAdjust="spacingAndGlyphs" stroke="#2a2240" stroke-width="0.12">60</text>
<text x="262.3" y="269.91" font-family="&quot;Liberation Sans&quot;, sans-serif" font-weight="normal" font-size="8.2" text-anchor="end" fill="#2a2240" textLength="6.1" lengthAdjust="spacingAndGlyphs" stroke="#2a2240" stroke-width="0.12">80</text>
<text x="262.3" y="252.85" font-family="&quot;Liberation Sans&quot;, sans-serif" font-weight="normal" font-size="8.2" text-anchor="end" fill="#2a2240" textLength="9.15" lengthAdjust="spacingAndGlyphs" stroke="#2a2240" stroke-width="0.12">100</text>
<text x="262.3" y="235.79" font-family="&quot;Liberation Sans&quot;, sans-serif" font-weight="normal" font-size="8.2" text-anchor="end" fill="#2a2240" textLength="9.15" lengthAdjust="spacingAndGlyphs" stroke="#2a2240" stroke-width="0.12">120</text>
<path d="M265.5 335.2h3.7 M265.5 318.14h3.7 M265.5 301.08h3.7 M265.5 284.02h3.7 M265.5 266.96h3.7 M265.5 249.9h3.7 M265.5 232.84h3.7 M269.82 352.2v-3.6 M273.61 352.2v-3.6 M276.71 352.2v-3.6 M279.34 352.2v-3.6 M281.61 352.2v-3.6 M283.61 352.2v-3.6 M285.4 352.2v-5.2 M297.19 352.2v-3.6 M304.08 352.2v-3.6 M308.97 352.2v-3.6 M312.76 352.2v-3.6 M315.86 352.2v-3.6 M318.49 352.2v-3.6 M320.76 352.2v-3.6 M322.76 352.2v-3.6 M324.55 352.2v-5.2 M336.34 352.2v-3.6 M343.23 352.2v-3.6 M348.12 352.2v-3.6 M351.91 352.2v-3.6 M355.01 352.2v-3.6 M357.64 352.2v-3.6 M359.91 352.2v-3.6 M361.91 352.2v-3.6 M363.7 352.2v-5.2 M375.49 352.2v-3.6 M382.38 352.2v-3.6 M387.27 352.2v-3.6 M391.06 352.2v-3.6 M394.16 352.2v-3.6 M396.79 352.2v-3.6 M399.06 352.2v-3.6 M401.06 352.2v-3.6 M402.85 352.2v-5.2 M414.64 352.2v-3.6 M421.53 352.2v-3.6 M426.42 352.2v-3.6 M430.21 352.2v-3.6 M433.31 352.2v-3.6 M435.94 352.2v-3.6 M438.21 352.2v-3.6 M440.21 352.2v-3.6 M442 352.2v-5.2" fill="none" stroke="#333" stroke-width="0.9"/>
<text x="285.4" y="362.6" font-family="&quot;Liberation Sans&quot;, sans-serif" font-weight="normal" font-size="8.2" text-anchor="middle" fill="#2a2240" textLength="3.05" lengthAdjust="spacingAndGlyphs" stroke="#2a2240" stroke-width="0.12">1</text>
<text x="324.55" y="362.6" font-family="&quot;Liberation Sans&quot;, sans-serif" font-weight="normal" font-size="8.2" text-anchor="middle" fill="#2a2240" textLength="6.1" lengthAdjust="spacingAndGlyphs" stroke="#2a2240" stroke-width="0.12">10</text>
<text x="363.7" y="362.6" font-family="&quot;Liberation Sans&quot;, sans-serif" font-weight="normal" font-size="8.2" text-anchor="middle" fill="#2a2240" textLength="9.15" lengthAdjust="spacingAndGlyphs" stroke="#2a2240" stroke-width="0.12">100</text>
<text x="402.85" y="362.6" font-family="&quot;Liberation Sans&quot;, sans-serif" font-weight="normal" font-size="8.2" text-anchor="middle" fill="#2a2240" textLength="12.2" lengthAdjust="spacingAndGlyphs" stroke="#2a2240" stroke-width="0.12">1000</text>
<text x="442" y="362.6" font-family="&quot;Liberation Sans&quot;, sans-serif" font-weight="normal" font-size="8.2" text-anchor="middle" fill="#2a2240" textLength="15.25" lengthAdjust="spacingAndGlyphs" stroke="#2a2240" stroke-width="0.12">10000</text>
<text x="331.7" y="373" font-family="&quot;Liberation Sans&quot;, sans-serif" font-weight="normal" font-size="8.6" text-anchor="start" fill="#222" textLength="52.1" lengthAdjust="spacingAndGlyphs">Concentration&#160;&#160;(nM)</text>
<g transform="translate(237 327.1) rotate(-90)">
<text x="0" y="0" font-family="&quot;Liberation Sans&quot;, sans-serif" font-weight="normal" font-size="7.5" text-anchor="start" fill="#222" textLength="66.8" lengthAdjust="spacingAndGlyphs">Percent&#160;&#160;Inhibition</text>
</g>
<text x="294.1" y="215.4" font-family="&quot;Liberation Sans&quot;, sans-serif" font-weight="bold" font-size="10.2" text-anchor="start" fill="#151515" textLength="25.95" lengthAdjust="spacingAndGlyphs" stroke="#151515" stroke-width="0.3">ERBB2</text>
<text x="326.16" y="215.4" font-family="&quot;Liberation Sans&quot;, sans-serif" font-weight="bold" font-size="10.2" text-anchor="start" fill="#151515" textLength="24.25" lengthAdjust="spacingAndGlyphs" stroke="#151515" stroke-width="0.3">(HER2)</text>
<text x="357.02" y="215.4" font-family="&quot;Liberation Sans&quot;, sans-serif" font-weight="bold" font-size="10.2" text-anchor="start" fill="#151515" textLength="2.2" lengthAdjust="spacingAndGlyphs" stroke="#151515" stroke-width="0.3">:</text>
<text x="364.53" y="215.4" font-family="&quot;Liberation Sans&quot;, sans-serif" font-weight="bold" font-size="10.2" text-anchor="start" fill="#151515" textLength="15.73" lengthAdjust="spacingAndGlyphs" stroke="#151515" stroke-width="0.3">ATP</text>
<text x="386.48" y="215.4" font-family="&quot;Liberation Sans&quot;, sans-serif" font-weight="bold" font-size="10.2" text-anchor="start" fill="#151515" textLength="12.02" lengthAdjust="spacingAndGlyphs" stroke="#151515" stroke-width="0.3">[10]</text>
<polyline points="273.03,337.79 274.45,337.74 275.87,337.68 277.29,337.62 278.71,337.55 280.13,337.48 281.55,337.39 282.97,337.3 284.39,337.2 285.81,337.09 287.23,336.96 288.64,336.83 290.06,336.67 291.48,336.51 292.9,336.32 294.32,336.12 295.74,335.9 297.16,335.65 298.58,335.38 300,335.08 301.42,334.75 302.84,334.39 304.26,333.99 305.68,333.56 307.09,333.08 308.51,332.56 309.93,331.99 311.35,331.37 312.77,330.69 314.19,329.96 315.61,329.15 317.03,328.28 318.45,327.34 319.87,326.32 321.29,325.22 322.71,324.03 324.13,322.76 325.54,321.4 326.96,319.95 328.38,318.41 329.8,316.77 331.22,315.05 332.64,313.23 334.06,311.32 335.48,309.33 336.9,307.26 338.32,305.12 339.74,302.92 341.16,300.66 342.57,298.36 343.99,296.03 345.41,293.67 346.83,291.3 348.25,288.93 349.67,286.58 351.09,284.26 352.51,281.97 353.93,279.73 355.35,277.54 356.77,275.43 358.19,273.39 359.61,271.42 361.02,269.55 362.44,267.76 363.86,266.06 365.28,264.45 366.7,262.94 368.12,261.52 369.54,260.19 370.96,258.95 372.38,257.79 373.8,256.72 375.22,255.73 376.64,254.81 378.06,253.96 379.47,253.18 380.89,252.46 382.31,251.8 383.73,251.2 385.15,250.64 386.57,250.14 387.99,249.68 389.41,249.26 390.83,248.87 392.25,248.52 393.67,248.2 395.09,247.91 396.51,247.65 397.92,247.41 399.34,247.2 400.76,247 402.18,246.82 403.6,246.66 405.02,246.51 406.44,246.38 407.86,246.26 409.28,246.15 410.7,246.05 412.12,245.96 413.54,245.88 414.95,245.81 416.37,245.74 417.79,245.68 419.21,245.63 420.63,245.58 422.05,245.54 423.47,245.5 424.89,245.46 426.31,245.43 427.73,245.4 429.15,245.37 430.57,245.35 431.99,245.33 433.4,245.31 434.82,245.29 436.24,245.27 437.66,245.26 439.08,245.24 440.5,245.23 441.92,245.22" fill="none" stroke="#5af05a" stroke-width="1.1"/>
<path d="M310.56 328.97V335.46M308.66 328.97h3.8M308.66 335.46h3.8" stroke="#222" stroke-width="0.9" fill="none"/>
<path d="M348.09 284.96V294.51M346.19 284.96h3.8M346.19 294.51h3.8" stroke="#222" stroke-width="0.9" fill="none"/>
<path d="M385.62 250.16V252.71M383.72 250.16h3.8M383.72 252.71h3.8" stroke="#222" stroke-width="0.9" fill="none"/>
<ellipse cx="273.03" cy="338.27" rx="2" ry="2.75" fill="#1414f0"/>
<ellipse cx="273.03" cy="338.27" rx="0.75" ry="1.7" fill="#000050"/>
<ellipse cx="291.8" cy="336.14" rx="2" ry="2.75" fill="#1414f0"/>
<ellipse cx="291.8" cy="336.14" rx="0.75" ry="1.7" fill="#000050"/>
<ellipse cx="310.56" cy="332.21" rx="2" ry="2.75" fill="#1414f0"/>
<ellipse cx="310.56" cy="332.21" rx="0.75" ry="1.7" fill="#000050"/>
<ellipse cx="329.33" cy="316.52" rx="2" ry="2.75" fill="#1414f0"/>
<ellipse cx="329.33" cy="316.52" rx="0.75" ry="1.7" fill="#000050"/>
<ellipse cx="348.09" cy="289.74" rx="2" ry="2.75" fill="#1414f0"/>
<ellipse cx="348.09" cy="289.74" rx="0.75" ry="1.7" fill="#000050"/>
<ellipse cx="366.86" cy="261.07" rx="2" ry="2.75" fill="#1414f0"/>
<ellipse cx="366.86" cy="261.07" rx="0.75" ry="1.7" fill="#000050"/>
<ellipse cx="385.62" cy="251.44" rx="2" ry="2.75" fill="#1414f0"/>
<ellipse cx="385.62" cy="251.44" rx="0.75" ry="1.7" fill="#000050"/>
<ellipse cx="404.39" cy="248.28" rx="2" ry="2.75" fill="#1414f0"/>
<ellipse cx="404.39" cy="248.28" rx="0.75" ry="1.7" fill="#000050"/>
<ellipse cx="423.15" cy="246.66" rx="2" ry="2.75" fill="#1414f0"/>
<ellipse cx="423.15" cy="246.66" rx="0.75" ry="1.7" fill="#000050"/>
<ellipse cx="441.92" cy="242.73" rx="2" ry="2.75" fill="#1414f0"/>
<ellipse cx="441.92" cy="242.73" rx="0.75" ry="1.7" fill="#000050"/>
<text x="375.6" y="291.3" font-family="&quot;Liberation Serif&quot;, serif" font-weight="bold" font-size="10.2" text-anchor="start" fill="#bb1219" textLength="62" lengthAdjust="spacingAndGlyphs" stroke="#bb1219" stroke-width="0.25">IC50= 37.7 nM</text>
<rect x="480" y="204.5" width="188.6" height="170" fill="#fdfcfa"/>
<rect x="459.5" y="204.6" width="222.3" height="172" fill="none" stroke="#bbb" stroke-width="1.7" opacity="0.6"/>
<rect x="458.5" y="203.6" width="222.3" height="172" fill="none" stroke="#111" stroke-width="1.7"/>
<rect x="460.3" y="209.4" width="19.3" height="20" fill="#fff" stroke="#7a7a7a" stroke-width="0.9"/>
<path d="M479.6 209.9V228.9" stroke="#d8d8d8" stroke-width="1"/>
<text x="469.95" y="224.9" font-family="&quot;Liberation Serif&quot;, serif" font-weight="bold" font-size="14.3" text-anchor="middle" fill="#111">E</text>
<defs><pattern id="hp" width="2" height="6" patternUnits="userSpaceOnUse"><rect width="2" height="6" fill="#dadada"/><path d="M0 0h1v1h-1zM1 1h1v1h-1zM0 2h1v1h-1zM1 3h1v1h-1z" fill="#686868"/><rect y="4" width="2" height="2" fill="#b4b4b4"/><path d="M0 4h1v1h-1zM1 5h1v1h-1z" fill="#9a9a9a"/></pattern></defs>
<text x="510.3" y="342" font-family="&quot;Liberation Sans&quot;, sans-serif" font-weight="bold" font-size="9.6" text-anchor="end" fill="#1a1a1a" textLength="3.8" lengthAdjust="spacingAndGlyphs" stroke="#1a1a1a" stroke-width="0.15">0</text>
<text x="510.3" y="302.8" font-family="&quot;Liberation Sans&quot;, sans-serif" font-weight="bold" font-size="9.6" text-anchor="end" fill="#1a1a1a" textLength="7.6" lengthAdjust="spacingAndGlyphs" stroke="#1a1a1a" stroke-width="0.15">50</text>
<text x="510.3" y="263.6" font-family="&quot;Liberation Sans&quot;, sans-serif" font-weight="bold" font-size="9.6" text-anchor="end" fill="#1a1a1a" textLength="11.4" lengthAdjust="spacingAndGlyphs" stroke="#1a1a1a" stroke-width="0.15">100</text>
<text x="510.3" y="224.4" font-family="&quot;Liberation Sans&quot;, sans-serif" font-weight="bold" font-size="9.6" text-anchor="end" fill="#1a1a1a" textLength="11.4" lengthAdjust="spacingAndGlyphs" stroke="#1a1a1a" stroke-width="0.15">150</text>
<path d="M513.6 221V339.1H668.2 M511 338.6H513.6 M511 299.4H513.6 M511 260.2H513.6 M511 221H513.6" fill="none" stroke="#333" stroke-width="1"/>
<rect x="522.85" y="260.2" width="33.7" height="78.4" fill="url(#hp)" stroke="#111" stroke-width="1.3"/>
<path d="M539.7 338.6v4.2" stroke="#333" stroke-width="1"/>
<path d="M581.75 294.77h18.2M590.85 294.77V296.34" stroke="#151515" stroke-width="1.6" fill="none"/>
<rect x="573.75" y="296.34" width="34.2" height="42.26" fill="url(#hp)" stroke="#111" stroke-width="1.3"/>
<path d="M590.85 338.6v4.2" stroke="#333" stroke-width="1"/>
<path d="M633.4 316.8h18.2M642.5 316.8V319.55" stroke="#151515" stroke-width="1.6" fill="none"/>
<rect x="625.25" y="319.55" width="34.5" height="19.05" fill="url(#hp)" stroke="#111" stroke-width="1.3"/>
<path d="M642.5 338.6v4.2" stroke="#333" stroke-width="1"/>
<g transform="translate(543 352.3) rotate(-48)">
<text x="0" y="0" font-family="&quot;Liberation Sans&quot;, sans-serif" font-weight="bold" font-size="9.2" text-anchor="end" fill="#111" textLength="29.5" lengthAdjust="spacingAndGlyphs">Control</text>
</g>
<g transform="translate(593 353.3) rotate(-48)">
<text x="0" y="0" font-family="&quot;Liberation Sans&quot;, sans-serif" font-weight="bold" font-size="9.2" text-anchor="end" fill="#111" textLength="8.6" lengthAdjust="spacingAndGlyphs">15</text>
</g>
<g transform="translate(644.3 353.5) rotate(-48)">
<text x="0" y="0" font-family="&quot;Liberation Sans&quot;, sans-serif" font-weight="bold" font-size="9.2" text-anchor="end" fill="#111" textLength="9.2" lengthAdjust="spacingAndGlyphs">30</text>
</g>
<text x="582.9" y="368.3" font-family="&quot;Liberation Serif&quot;, serif" font-weight="bold" font-size="8.7" text-anchor="start" fill="#111" textLength="63.3" lengthAdjust="spacingAndGlyphs">Concentration (nM)</text>
<g transform="translate(493.3 324.3) rotate(-90)">
<text x="0" y="0" font-family="&quot;Liberation Sans&quot;, sans-serif" font-weight="bold" font-size="9.6" text-anchor="start" fill="#111" textLength="88.6" lengthAdjust="spacingAndGlyphs">% Phosphorylation</text>
</g>
</svg>
</body></html>
